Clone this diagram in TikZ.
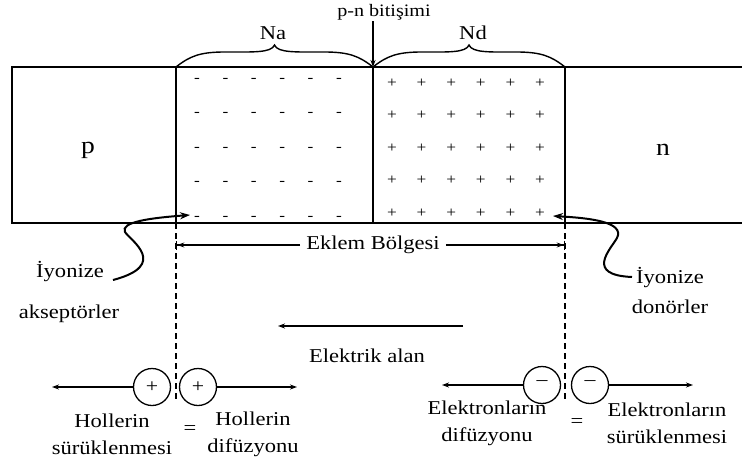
\documentclass[tikz,border=0pt]{standalone}
\usepackage{fontspec}
\setmainfont{Liberation Serif}[FakeStretch=1.15]
\usetikzlibrary{arrows.meta,decorations.pathreplacing,positioning}
\tikzset{x=1pt, y=-1pt, % pixel-like units, y grows downwards
  region/.style={line width=1.6pt},
  txt/.style={font=\fontsize{19.6}{27}\selectfont, inner sep=1pt, align=center},
  bigtxt/.style={font=\fontsize{24}{28}\selectfont},
  charge/.style={font=\fontsize{15}{16}\selectfont, inner sep=0pt},
  carrier/.style={draw, circle, line width=1.3pt, minimum size=37pt,
    inner sep=0pt, font=\fontsize{19}{20}\selectfont},
  flow/.style={-{Stealth[length=7pt,width=5pt]}, line width=1.3pt},
  barflow/.style={-{Stealth[length=7pt,width=5pt]Bar[width=9pt]}, line width=1.3pt},
  wavy/.style={-{Stealth[length=10pt,width=7pt]}, line width=2pt},
  bound/.style={dash pattern=on 6pt off 4pt, line width=1.6pt},
  curly/.style={line width=1.4pt}}

\begin{document}
\begin{tikzpicture}
  \useasboundingbox (0,0) rectangle (742,466);
  % the bar and the depletion region
  \draw[region] (12,67) rectangle (760,223);
  \coordinate (jl) at (176,67);
  \coordinate (jm) at (373,67);
  \coordinate (jr) at (565,67);
  \draw[region] (jl) -- (176,223);
  \draw[region] (jm) -- (373,223);
  \draw[region] (jr) -- (565,223);
  \node[bigtxt] (p) at (88,150) {p};
  \node[bigtxt] (n) at (663,150) {n};
  % ionized charges
  \foreach \i in {0,...,5}
    \foreach \j in {0,...,4} {
      \node[charge] (a\i\j) at ({197+28.4*\i},{80+34.5*\j}) {-};
      \node[charge] (d\i\j) at ({392+29.6*\i},{83+32.5*\j}) {+};
    }
  % braces and junction
  \foreach \s/\e in {176/373,373/565} {
    \pgfmathsetmacro{\m}{(\s+\e)/2}
    \draw[curly] (\s,67) .. controls (\s+14,56) and (\s+24,52) .. (\s+49,52)
      .. controls (\m-22,52) and (\m-3,53) .. (\m,45)
      .. controls (\m+3,53) and (\m+22,52) .. (\e-49,52)
      .. controls (\e-24,52) and (\e-14,56) .. (\e,67);
  }
  \node[txt] (na) at (273,33) {Na};
  \node[txt] (nd) at (473,33) {Nd};
  \node[txt, font=\fontsize{17.5}{20}\selectfont] (pn) at (384,12) {p-n bitişimi};
  \draw[flow] (pn.south -| jm) -- (jm);
  % edges of the region
  \draw[bound] (176,223) -- (176,402);
  \draw[bound] (565,223) -- (565,402);
  \node[txt, inner sep=6pt] (eklem) at (373,245) {Eklem Bölgesi};
  \coordinate (ekl) at (176,245);
  \coordinate (ekr) at (565,245);
  \draw[barflow] (eklem.west) -- (ekl);
  \draw[barflow] (eklem.east) -- (ekr);
  % ionized labels
  \node[txt] (ion1) at (70,272) {İyonize};
  \node[txt] (aks) at (69,314) {akseptörler};
  \node[txt] (ion2) at (670,278) {İyonize};
  \node[txt] (don) at (670,307) {donörler};
  \coordinate (w1s) at (113,280);
  \coordinate (w1e) at (190,215);
  \coordinate (w2s) at (632,277);
  \coordinate (w2e) at (553,216);
  \draw[wavy] (w1s) .. controls (170,265) and (130,240) .. (125,232)
    .. controls (120,222) and (150,218) .. (w1e);
  \draw[wavy] (w2s) .. controls (585,275) and (610,250) .. (617,238)
    .. controls (625,222) and (590,218) .. (w2e);
  % electric field
  \coordinate (ea) at (463,326);
  \coordinate (eb) at (278,326);
  \draw[flow] (ea) -- (eb);
  \node[txt] (alan) at (367,356) {Elektrik alan};
  % holes
  \node[carrier] (h1) at (152,387) {+};
  \node[carrier] (h2) at (198,387) {+};
  \coordinate (hl) at (52,387);
  \coordinate (hr) at (297,387);
  \draw[flow] (h1) -- (hl);
  \draw[flow] (h2) -- (hr);
  \node[txt] (hs) at (112,434) {Hollerin\\sürüklenmesi};
  \node[txt] (eq1) at (190,430) {=};
  \node[txt] (hd) at (253,434) {Hollerin\\difüzyonu};
  % electrons
  \node[carrier] (e1) at (542,385) {\raisebox{3pt}{–}};
  \node[carrier] (e2) at (590,385) {\raisebox{3pt}{–}};
  \coordinate (el) at (442,385);
  \coordinate (er) at (693,385);
  \draw[flow] (e1) -- (el);
  \draw[flow] (e2) -- (er);
  \node[txt] (ed) at (487,423) {Elektronların\\difüzyonu};
  \node[txt] (eq2) at (577,423) {=};
  \node[txt] (es) at (667,423) {Elektronların\\sürüklenmesi};
\end{tikzpicture}
\end{document}
